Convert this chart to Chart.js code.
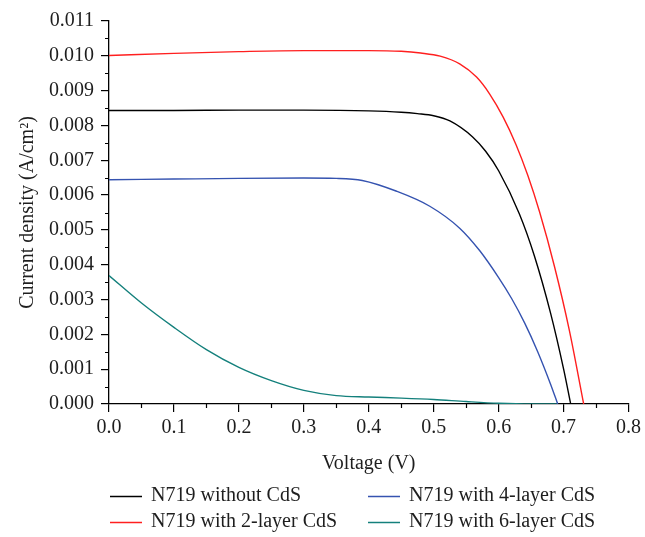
<!DOCTYPE html>
<html>
<head>
<meta charset="utf-8">
<script src="https://cdn.jsdelivr.net/npm/chart.js@4.4.1/dist/chart.umd.min.js"></script>
<style>
  html, body { margin: 0; padding: 0; background: #fff; }
  #wrap { width: 645px; height: 537px; }
</style>
</head>
<body>
<div id="wrap"><canvas id="myChart" width="645" height="537"></canvas></div>
<script>
// J-V curves (voltage in V, current density in A/cm2)
const vWithout = [0, 0.1, 0.2, 0.3, 0.4, 0.45, 0.475, 0.5, 0.525, 0.56, 0.58, 0.6, 0.632, 0.655, 0.68, 0.7, 0.711]
const jWithout = [0.00843, 0.00843, 0.00844, 0.00844, 0.00842, 0.00838, 0.00834, 0.00828, 0.00813, 0.00767, 0.00726, 0.0067, 0.00546, 0.00426, 0.00261, 0.00101, 0]

const v2Layer = [0, 0.1, 0.2, 0.3, 0.4, 0.45, 0.48, 0.51, 0.54, 0.566, 0.586, 0.607, 0.627, 0.645, 0.663, 0.686, 0.709, 0.731]
const j2Layer = [0.01001, 0.01007, 0.01012, 0.01015, 0.01015, 0.01013, 0.01008, 0.00999, 0.00977, 0.00939, 0.00891, 0.00824, 0.00744, 0.00656, 0.00552, 0.00395, 0.00211, 0]

const v4Layer = [0, 0.1, 0.2, 0.3, 0.35, 0.39, 0.443, 0.494, 0.54, 0.571, 0.6, 0.62, 0.64, 0.66, 0.68, 0.691]
const j4Layer = [0.00644, 0.00646, 0.00648, 0.00649, 0.00648, 0.00642, 0.00611, 0.00568, 0.00505, 0.0044, 0.00363, 0.00303, 0.00233, 0.00151, 0.00057, 0]

const v6Layer = [0, 0.05, 0.1, 0.15, 0.2, 0.25, 0.3, 0.35, 0.4, 0.45, 0.5, 0.55, 0.6, 0.65, 0.69]
const j6Layer = [0.00369, 0.0029, 0.0022, 0.00156, 0.00105, 0.00067, 0.00039, 0.00024, 0.0002, 0.00017, 0.00013, 0.00007, 0.00002, 0, 0]

const seriesNames = ['N719 without CdS', 'N719 with 2-layer CdS', 'N719 with 4-layer CdS', 'N719 with 6-layer CdS']
const seriesColors = ['#000000', '#ff1f1f', '#3553b0', '#14807c']

const FONT = 'Liberation Serif'
const TEXT = '#1e1e1e'

function pts(xs, ys) {
  return xs.map((x, i) => ({ x: x, y: ys[i] }))
}

const curves = [
  pts(vWithout, jWithout),
  pts(v2Layer, j2Layer),
  pts(v4Layer, j4Layer),
  pts(v6Layer, j6Layer)
]

// minor ticks + two column legend drawn on the canvas
const extras = {
  id: 'extras',
  afterDraw(chart) {
    const ctx = chart.ctx
    const xs = chart.scales.x
    const ys = chart.scales.y
    const area = chart.chartArea
    ctx.save()
    ctx.strokeStyle = '#000'
    ctx.lineWidth = 1.2
    ctx.beginPath()
    for (let i = 0; i < 8; i++) {
      const px = Math.round(xs.getPixelForValue(0.05 + i * 0.1)) + 0.5
      ctx.moveTo(px, area.bottom)
      ctx.lineTo(px, area.bottom + 4)
    }
    for (let i = 0; i < 11; i++) {
      const py = Math.round(ys.getPixelForValue(0.0005 + i * 0.001)) + 0.5
      ctx.moveTo(area.left, py)
      ctx.lineTo(area.left - 4, py)
    }
    ctx.stroke()

    // legend
    ctx.font = '20px "' + FONT + '"'
    ctx.textBaseline = 'middle'
    ctx.fillStyle = TEXT
    const colX = [110, 368]
    const rowY = [496, 522]
    chart.data.datasets.forEach((ds, i) => {
      const cx = colX[Math.floor(i / 2)]
      const cy = rowY[i % 2]
      ctx.strokeStyle = ds.borderColor
      ctx.lineWidth = 1.5
      ctx.beginPath()
      ctx.moveTo(cx, cy + 0.5)
      ctx.lineTo(cx + 32, cy + 0.5)
      ctx.stroke()
      ctx.fillText(ds.label, cx + 41, cy)
    })
    ctx.restore()
  }
}

const ctx = document.getElementById('myChart')
const myChart = new Chart(ctx, {
  type: 'line',
  data: {
    datasets: curves.map((c, i) => ({
      label: seriesNames[i],
      data: c,
      borderColor: seriesColors[i],
      backgroundColor: seriesColors[i],
      borderWidth: 1.4,
      pointRadius: 0,
      cubicInterpolationMode: 'monotone',
      fill: false
    }))
  },
  options: {
    responsive: false,
    animation: false,
    layout: { padding: { left: 8, right: 16, top: 21, bottom: 57 } },
    plugins: {
      legend: { display: false },
      tooltip: { enabled: false }
    },
    scales: {
      x: {
        type: 'linear',
        min: 0,
        max: 0.8,
        grid: { display: true, drawOnChartArea: false, drawTicks: true, tickLength: 8, tickColor: '#000', lineWidth: 1.2 },
        border: { display: true, color: '#000', width: 1.3 },
        ticks: {
          stepSize: 0.1,
          padding: 4,
          color: TEXT,
          font: { family: FONT, size: 20 },
          maxRotation: 0,
          callback: v => v.toFixed(1)
        },
        title: {
          display: true,
          text: 'Voltage (V)',
          color: TEXT,
          font: { family: FONT, size: 20 },
          padding: { top: 8, bottom: 4 }
        }
      },
      y: {
        min: 0,
        max: 0.011,
        afterFit(scale) { scale.width = 101 },
        grid: { display: true, drawOnChartArea: false, drawTicks: true, tickLength: 8, tickColor: '#000', lineWidth: 1.2 },
        border: { display: true, color: '#000', width: 1.3 },
        ticks: {
          stepSize: 0.001,
          padding: 7,
          color: TEXT,
          font: { family: FONT, size: 20 },
          callback: v => v.toFixed(3)
        },
        title: {
          display: true,
          text: 'Current density (A/cm²)',
          color: TEXT,
          font: { family: FONT, size: 20 },
          padding: { top: 8, bottom: 4 }
        }
      }
    }
  },
  plugins: [extras]
})
</script>
</body>
</html>
